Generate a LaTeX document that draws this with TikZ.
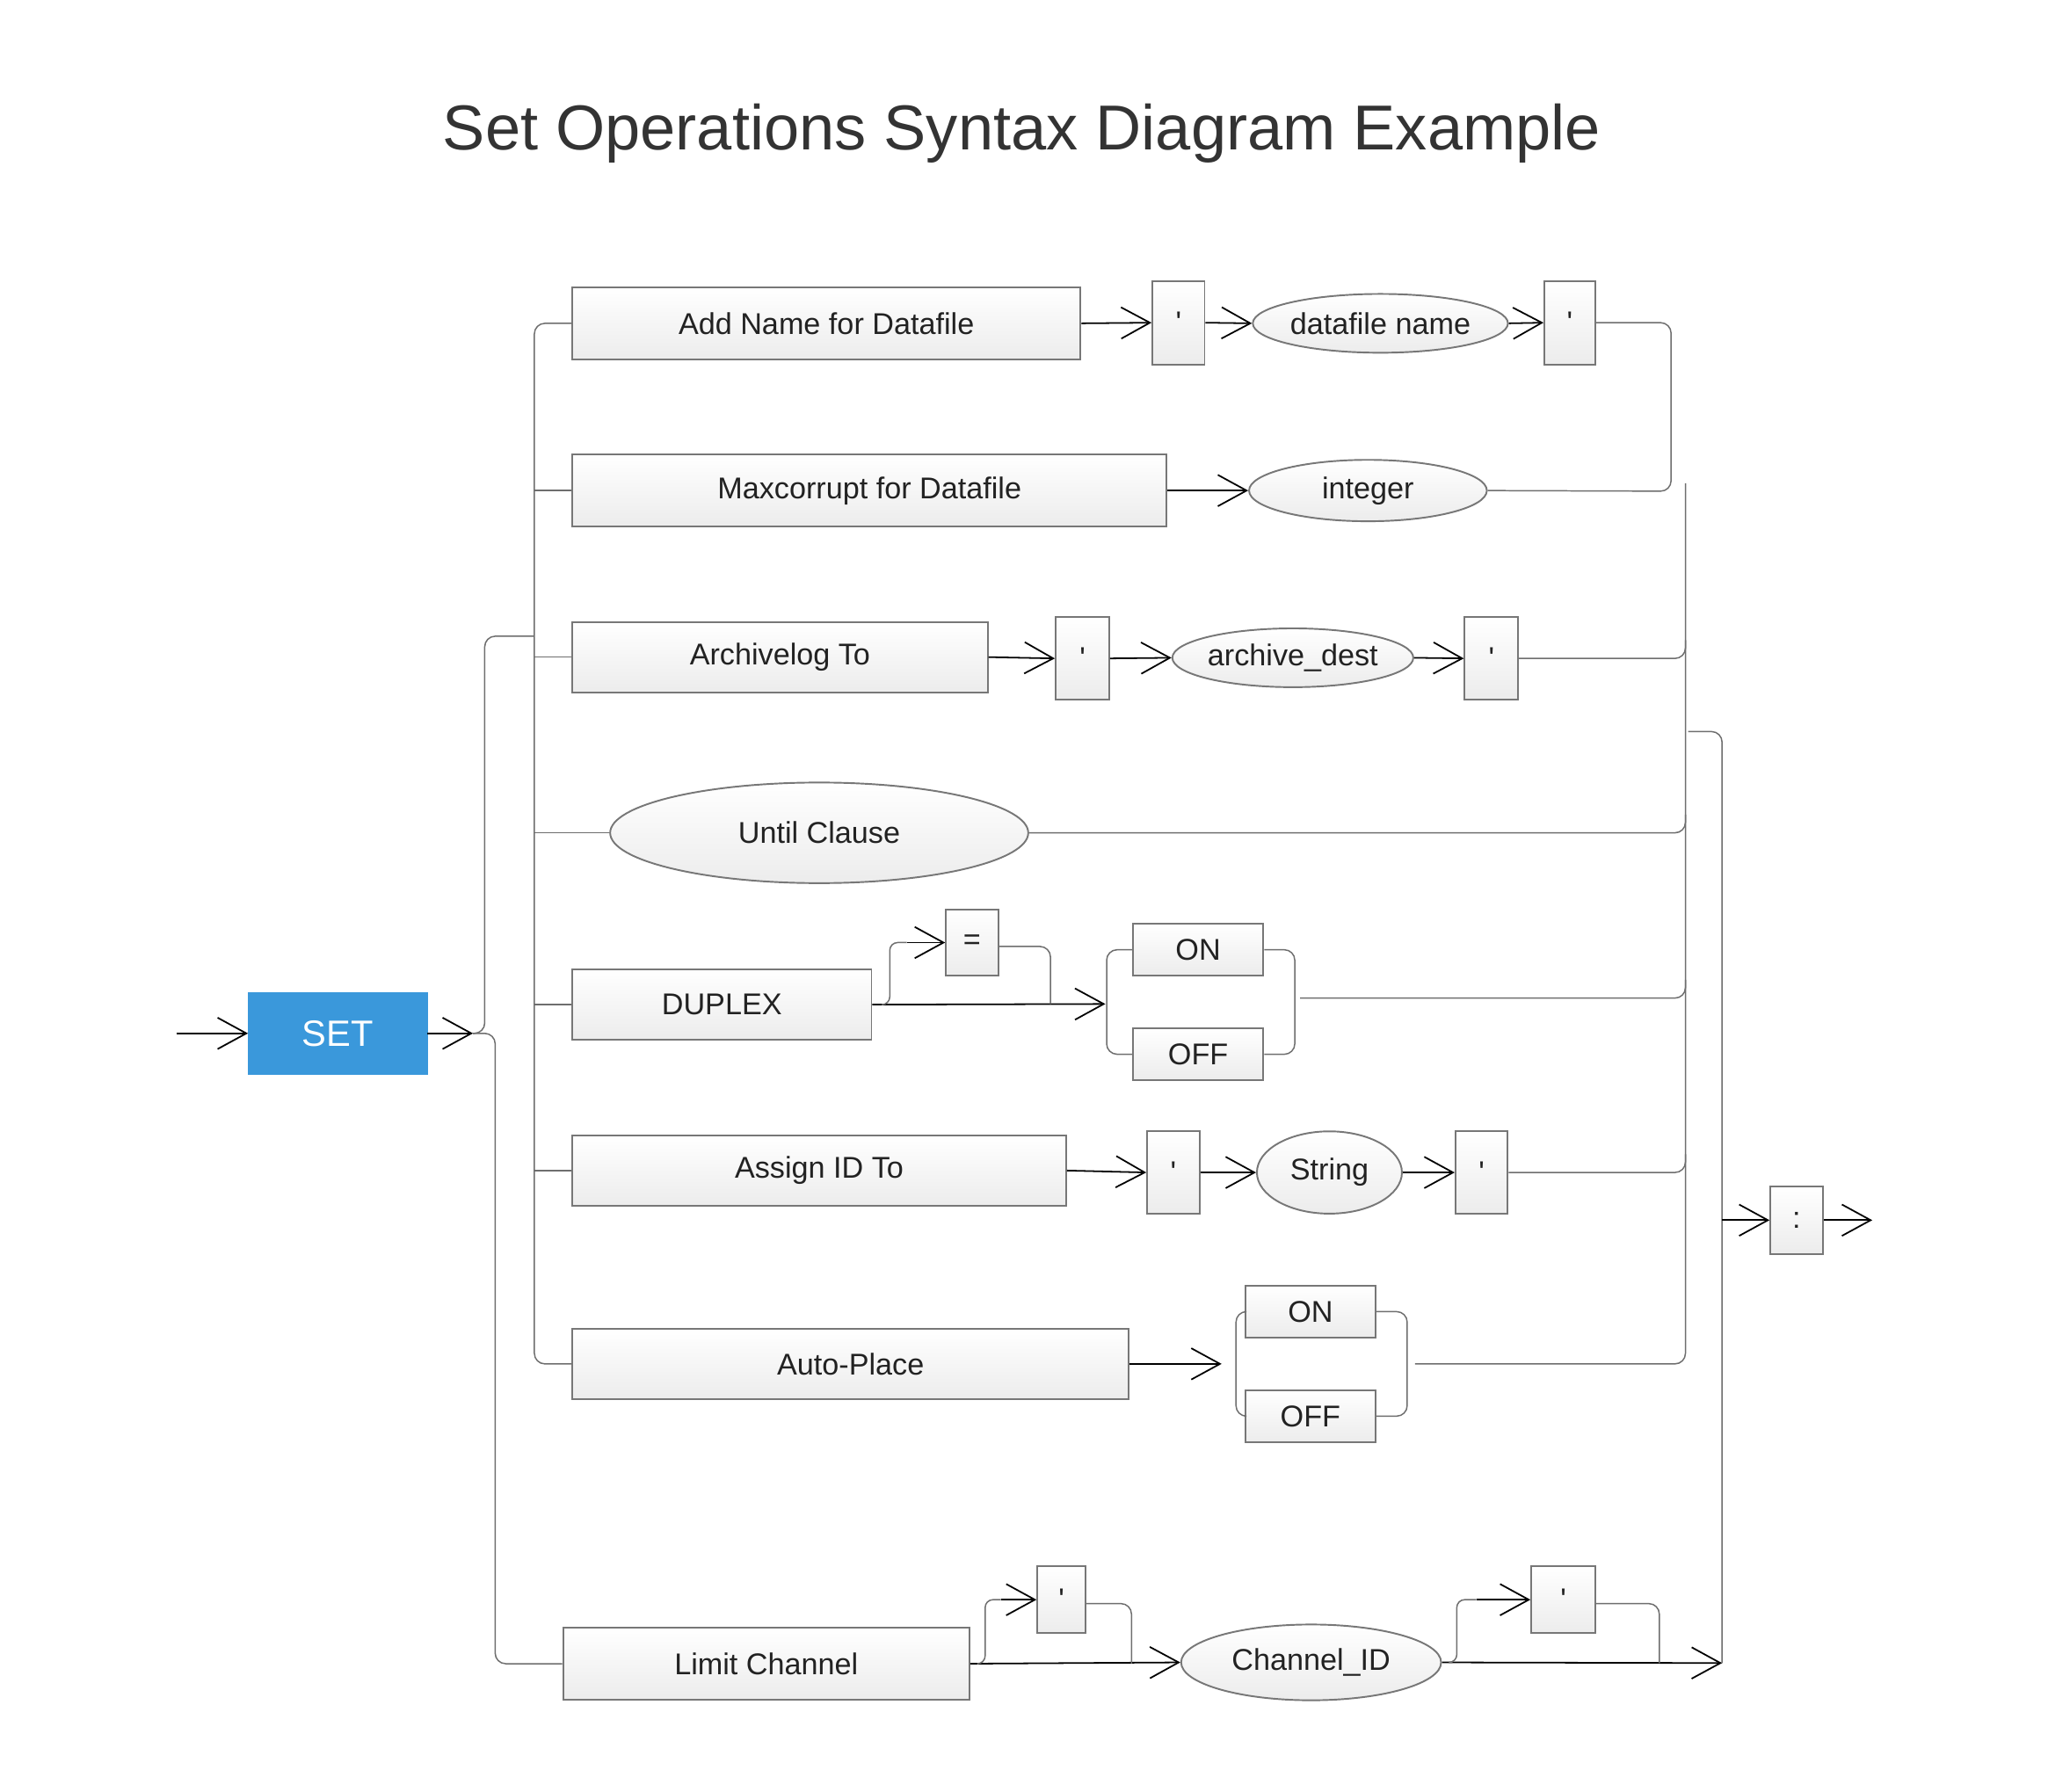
\documentclass[tikz,border=0pt]{standalone}
\usepackage{fontspec}
\setmainfont{Liberation Sans}
\usetikzlibrary{shapes.geometric,arrows.meta,calc}
\definecolor{lineg}{HTML}{6E6E6E}
\definecolor{boxb}{HTML}{777777}
\definecolor{boxf}{HTML}{ECECEC}
\definecolor{setblue}{HTML}{3A98DB}
\definecolor{titlec}{HTML}{333333}
\definecolor{txt}{HTML}{222222}
\tikzset{
  >={Straight Barb[length=22pt,width=24pt]},
  box/.style={draw=boxb, line width=1.3pt, top color=white, bottom color=boxf, inner sep=0pt, text=txt, font=\fontsize{23}{27}\selectfont},
  ell/.style={box, ellipse},
  gl/.style={draw=lineg, line width=1pt},
  blk/.style={draw=black, line width=1.2pt},
}
\begin{document}
\begin{tikzpicture}[x=1pt,y=-1pt]
\fill[white] (0,0) rectangle (1567.5,1371.1);
\useasboundingbox (0,0) rectangle (1567.5,1371.1);

\node[text=titlec, font=\fontsize{48.6}{56}\selectfont, anchor=base] (title) at (782,114.5) {Set Operations Syntax Diagram Example};

% coordinates of buses
\coordinate (LB) at (409,0);
\coordinate (RB) at (1290,0);
\coordinate (start) at (135,791);
\coordinate (sj) at (362,791);

% nodes
\node[fill=setblue, draw=setblue, minimum width=137, minimum height=62, text=white, font=\fontsize{28}{32}\selectfont] (set) at (258.5,791) {SET};

\node[box, minimum width=389, minimum height=55] (b1) at (632.5,247.5) {Add Name for Datafile};
\node[box, minimum width=40, minimum height=64] (q1) at (902,247) {\textquotesingle};
\node[ell, minimum width=195, minimum height=45] (e1) at (1056.5,247.5) {datafile name};
\node[box, minimum width=39, minimum height=64] (q2) at (1201.5,247) {\textquotesingle};

\node[box, minimum width=455, minimum height=55] (b2) at (665.5,375.5) {Maxcorrupt for Datafile};
\node[ell, minimum width=182, minimum height=47] (e2) at (1047,375.5) {integer};

\node[box, minimum width=318, minimum height=54] (b3) at (597,503) {Archivelog To};
\node[box, minimum width=41, minimum height=63] (q3a) at (828.5,504) {\textquotesingle};
\node[ell, minimum width=183, minimum height=45] (e3) at (989.5,503.5) {archive\_dest};
\node[box, minimum width=41, minimum height=63] (q3b) at (1141.5,504) {\textquotesingle};

\node[ell, minimum width=320, minimum height=77] (u4) at (627,637.5) {Until Clause};

\node[box, minimum width=229, minimum height=54] (b5) at (552.5,769) {DUPLEX};
\node[box, minimum width=40, minimum height=51] (eq) at (744,721.5) {=};
\node[box, minimum width=100, minimum height=40] (on5) at (917,727) {ON};
\node[box, minimum width=100, minimum height=40] (off5) at (917,807) {OFF};

\node[box, minimum width=378, minimum height=54] (b6) at (627,896) {Assign ID To};
\node[box, minimum width=40, minimum height=63] (q6a) at (898,897.5) {\textquotesingle};
\node[ell, minimum width=111, minimum height=63] (e6) at (1017.5,897.5) {String};
\node[box, minimum width=40, minimum height=63] (q6b) at (1134,897.5) {\textquotesingle};

\node[box, minimum width=426, minimum height=54] (b7) at (651,1044) {Auto-Place};
\node[box, minimum width=100, minimum height=40] (on7) at (1003,1004) {ON};
\node[box, minimum width=100, minimum height=40] (off7) at (1003,1084) {OFF};

\node[box, minimum width=311, minimum height=55] (lim) at (586.5,1273.5) {Limit Channel};
\node[box, minimum width=37, minimum height=51] (qa8) at (812.5,1224.5) {\textquotesingle};
\node[ell, minimum width=199, minimum height=58] (ch) at (1003.5,1272.5) {Channel\_ID};
\node[box, minimum width=49, minimum height=51] (qb8) at (1196.5,1224.5) {\textquotesingle};

\node[box, minimum width=40, minimum height=52] (colon) at (1375,934) {:};

% helper coordinates
\coordinate (lbj) at (409,487);
\coordinate (r1b) at (1279,376);
\coordinate (rbtop) at (1290,370);
\coordinate (d5in) at (846,768.5);
\coordinate (d5up) at (681,721.5);
\coordinate (d5a) at (694,721.5);
\coordinate (d5dn) at (804,768.5);
\coordinate (br5l) at (847,767);
\coordinate (br5r) at (991,767);
\coordinate (o5) at (995,764);
\coordinate (a7) at (935,1044);
\coordinate (br7l) at (946,1044);
\coordinate (br7r) at (1077,1044);
\coordinate (o7) at (1083,1044);
\coordinate (rb2a) at (1292,560);
\coordinate (rb2b) at (1318,1273);
\coordinate (cin) at (1318,934);
\coordinate (cout) at (1433,934);
\coordinate (l8up) at (754,1224.5);
\coordinate (l8a) at (766,1224.5);
\coordinate (l8dn) at (866,1273.5);
\coordinate (c8up) at (1115,1224.5);
\coordinate (c8a) at (1130,1224.5);
\coordinate (c8dn) at (1270,1273);

% entry and SET
\draw[blk,->] (start) -- (set.west);
\draw[blk,->] (set.east) -- (sj);
\draw[gl, rounded corners=8] (sj) -| (371,487) -- (lbj);
\draw[gl, rounded corners=8] (sj) -| (379,1273.5) -- (lim.west);

% left bus
\draw[gl, rounded corners=8] (b1.west) -- (b1.west -| LB) -- (b7.west -| LB) -- (b7.west);
\draw[gl] (b2.west -| LB) -- (b2.west);
\draw[gl] (b3.west -| LB) -- (b3.west);
\draw[gl] (u4.west -| LB) -- (u4.west);
\draw[gl] (b5.west -| LB) -- (b5.west);
\draw[gl] (b6.west -| LB) -- (b6.west);

% row 1
\draw[blk,->] (b1.east) -- (q1.west);
\draw[blk,->] (q1.east) -- (e1.west);
\draw[blk,->] (e1.east) -- (q2.west);
\draw[gl, rounded corners=8] (q2.east) -| (r1b) -- (e2.east);
% row 2
\draw[blk,->] (b2.east) -- (e2.west);

% right bus
\draw[gl, rounded corners=8] (o7) -| (rbtop);
\draw[gl, rounded corners=8] (q3b.east) -| ($(q3b.east -| RB)+(0,-14)$);
\draw[gl, rounded corners=8] (u4.east) -| ($(u4.east -| RB)+(0,-14)$);
\draw[gl, rounded corners=8] (o5) -| ($(o5 -| RB)+(0,-14)$);
\draw[gl, rounded corners=8] (q6b.east) -| ($(q6b.east -| RB)+(0,-14)$);

% row 3
\draw[blk,->] (b3.east) -- (q3a.west);
\draw[blk,->] (q3a.east) -- (e3.west);
\draw[blk,->] (e3.east) -- (q3b.west);

% row 5
\draw[blk,->] (b5.east) -- (d5in);
\draw[gl, rounded corners=6] ($(b5.east)+(8,0)$) -| (d5up) -- (d5a);
\draw[blk,->] (d5a) -- (eq.west);
\draw[gl, rounded corners=8] ($(eq.east)+(0,3)$) -| (d5dn);
\draw[gl, rounded corners=8] (on5.west) -| (br5l) |- (off5.west);
\draw[gl, rounded corners=8] (on5.east) -| (br5r) |- (off5.east);

% row 6
\draw[blk,->] (b6.east) -- (q6a.west);
\draw[blk,->] (q6a.east) -- (e6.west);
\draw[blk,->] (e6.east) -- (q6b.west);

% row 7
\draw[blk,->] (b7.east) -- (a7);
\draw[gl, rounded corners=8] (on7.west) -| (br7l) |- (off7.west);
\draw[gl, rounded corners=8] (on7.east) -| (br7r) |- (off7.east);

% second right bus and end
\draw[gl, rounded corners=8] (rb2a) -| (rb2b);
\draw[blk,->] (cin) -- (colon.west);
\draw[blk,->] (colon.east) -- (cout);

% row 8
\draw[blk,->] (lim.east) -- (ch.west);
\draw[gl, rounded corners=6] ($(lim.east)+(6,0)$) -| (l8up) -- (l8a);
\draw[blk,->] (l8a) -- (qa8.west);
\draw[gl, rounded corners=8] ($(qa8.east)+(0,3)$) -| (l8dn);
\draw[blk,->] (ch.east) -- (rb2b);
\draw[gl, rounded corners=6] ($(ch.east)+(8,0)$) -| (c8up) -- (c8a);
\draw[blk,->] (c8a) -- (qb8.west);
\draw[gl, rounded corners=8] ($(qb8.east)+(0,3)$) -| (c8dn);
\end{tikzpicture}
\end{document}
